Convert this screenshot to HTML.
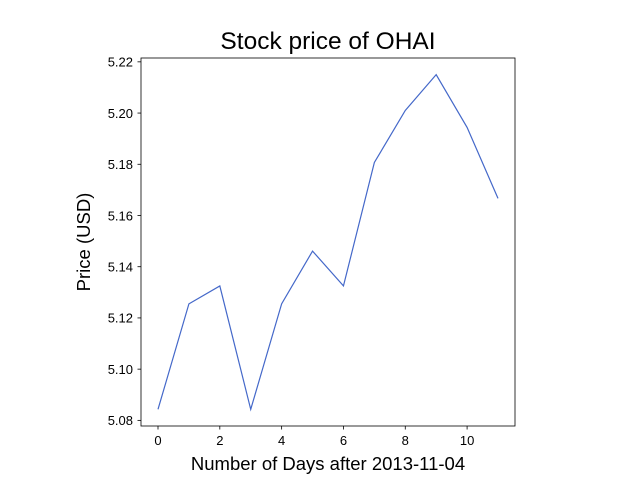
<!DOCTYPE html>
<html><head><meta charset="utf-8"><style>
body{margin:0;background:#fff;}
svg text{font-family:"Liberation Sans",Arial,sans-serif;}
</style></head><body>
<svg id="chart" width="640" height="480" xmlns="http://www.w3.org/2000/svg"></svg>
<script>
const days=[0,1,2,3,4,5,6,7,8,9,10,11];
const prices=[5.0843,5.1255,5.1325,5.0843,5.1255,5.1461,5.1325,5.1807,5.2010,5.2150,5.1944,5.1667];
const xTicks=[0,2,4,6,8,10];
const yTicks=[5.08,5.10,5.12,5.14,5.16,5.18,5.20,5.22];
const L=141,R=515,T=58,B=426;
const xmin=-0.55,xmax=11.55,ymin=5.0778,ymax=5.2215;
const sx=v=>L+(v-xmin)/(xmax-xmin)*(R-L);
const sy=v=>B-(v-ymin)/(ymax-ymin)*(B-T);
const svg=document.getElementById('chart');
const NS='http://www.w3.org/2000/svg';
function mk(tag,attrs,parent){const e=document.createElementNS(NS,tag);for(const k in attrs)e.setAttribute(k,attrs[k]);(parent||svg).appendChild(e);return e;}
let frame=mk('rect',{x:L,y:T,width:R-L,height:B-T,fill:'none',stroke:'#000','stroke-width':0.8});


xTicks.forEach(t=>{
  const x=sx(t);
  let l=mk('line',{x1:x,x2:x,y1:B,y2:B+3.5,stroke:'#000','stroke-width':0.8});
  
  
  let tx=mk('text',{x:x,y:B+19,'font-size':13,'text-anchor':'middle'});
  tx.textContent=t;
  
  
});
yTicks.forEach(t=>{
  const y=sy(t);
  let l=mk('line',{x1:L-3.5,x2:L,y1:y,y2:y,stroke:'#000','stroke-width':0.8});
  
  
  let tx=mk('text',{x:L-8,y:y+4.8,'font-size':13,'text-anchor':'end'});
  tx.textContent=t.toFixed(2);
  
  
});
let line=mk('polyline',{points:days.map((d,i)=>sx(d)+','+sy(prices[i])).join(' '),fill:'none',stroke:'#4468c9','stroke-width':1.2});


let title=mk('text',{x:328,y:49,'font-size':24.5,'text-anchor':'middle'});
title.textContent='Stock price of OHAI';


let xl=mk('text',{x:328,y:470,'font-size':18.5,'text-anchor':'middle'});
xl.textContent='Number of Days after 2013-11-04';


let yl=mk('text',{x:0,y:0,'font-size':18.5,'text-anchor':'middle',transform:'translate(90,242) rotate(-90)'});
yl.textContent='Price (USD)';


</script>
</body></html>
